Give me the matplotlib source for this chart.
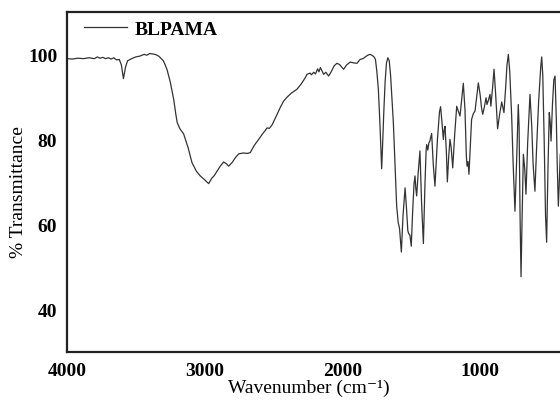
import matplotlib
matplotlib.use("Agg")
import matplotlib.pyplot as plt

plt.rcParams['font.family'] = ['Liberation Serif', 'DejaVu Serif']

# FTIR spectrum of BLPAMA, read point by point (cm-1, % transmittance)
wavenumber = [
    4000, 3960, 3920, 3880, 3840, 3800, 3780, 3760, 3740, 3720, 3700, 3680,
    3660, 3640, 3620, 3605, 3590, 3575, 3560, 3530, 3500, 3470, 3440, 3420,
    3400, 3380, 3360, 3334, 3300, 3274, 3250, 3225, 3210, 3200, 3180, 3153,
    3120, 3092, 3060, 3032, 3000, 2985, 2971, 2950, 2930, 2911, 2885, 2862,
    2840, 2826, 2800, 2775, 2753, 2720, 2690, 2669, 2640, 2608, 2580, 2560,
    2548, 2530, 2511, 2480, 2450, 2427, 2400, 2370, 2330, 2300, 2270, 2257,
    2235, 2225, 2208, 2195, 2180, 2170, 2160, 2136, 2120, 2100, 2080, 2060,
    2040, 2020, 2000, 1991, 1970, 1943, 1920, 1894, 1872, 1850, 1830, 1810,
    1800, 1785, 1770, 1760, 1750, 1739, 1728, 1720, 1715, 1710, 1700, 1690,
    1680, 1670, 1660, 1650, 1640, 1630, 1615, 1606, 1595, 1585, 1572, 1560,
    1545, 1535, 1525, 1518, 1510, 1500, 1490, 1480, 1473, 1467, 1461, 1450,
    1437, 1425, 1412, 1400, 1392, 1388, 1380, 1372, 1365, 1352, 1340, 1328,
    1310, 1295, 1287, 1277, 1267, 1262, 1255, 1245, 1238, 1228, 1219, 1210,
    1199, 1185, 1170, 1160, 1146, 1135, 1122, 1110, 1100, 1095, 1088, 1081,
    1072, 1062, 1050, 1037, 1025, 1013, 1000, 990, 981, 970, 957, 950,
    940, 928, 922, 910, 899, 888, 873, 858, 843, 835, 827, 815,
    805, 795, 785, 771, 760, 747, 735, 723, 717, 710, 703, 695,
    686, 676, 667, 655, 638, 625, 615, 602, 590, 575, 560, 553,
    545, 535, 525, 517, 508, 498, 491, 485, 475, 465, 456, 447,
    440, 432, 425, 418,
]
transmittance = [
    99.0, 98.9, 99.1, 99.0, 99.2, 99.0, 99.4, 99.1, 99.3, 99.0, 99.2, 98.9,
    99.2, 98.7, 98.8, 97.5, 94.3, 97.0, 98.5, 99.0, 99.4, 99.6, 100.0, 99.8,
    100.2, 100.1, 100.0, 99.6, 98.5, 96.5, 93.5, 89.4, 86.0, 84.0, 82.5, 81.3,
    78.0, 74.5, 72.5, 71.4, 70.5, 70.0, 69.6, 70.8, 71.5, 72.5, 73.8, 74.7,
    74.2, 73.7, 74.6, 75.8, 76.6, 76.8, 76.7, 76.9, 78.6, 80.0, 81.3, 82.1,
    82.7, 82.6, 83.4, 85.5, 87.6, 89.0, 90.0, 90.9, 91.8, 93.0, 94.5, 95.3,
    95.6, 95.2, 95.8, 95.4, 96.6, 95.9, 96.9, 95.3, 95.8, 94.9, 96.0, 97.3,
    97.9, 97.6, 96.8, 96.5, 97.5, 98.2, 98.0, 97.9, 98.8, 99.0, 99.5, 99.9,
    100.0, 99.8, 99.4, 98.8, 96.0, 91.8, 84.0, 77.0, 73.1, 77.0, 86.0, 93.5,
    98.0, 99.2, 98.5, 95.0, 89.5, 83.9, 72.0, 64.3, 60.5, 59.0, 53.5, 62.0,
    68.6, 64.0, 58.5, 57.8, 57.5, 54.9, 63.0, 69.5, 71.4, 68.5, 66.7, 72.0,
    77.3, 65.0, 55.5, 70.0, 77.5, 78.8, 77.5, 79.2, 79.6, 81.4, 74.0, 69.0,
    80.0, 86.5, 87.7, 84.0, 80.0, 82.0, 83.1, 77.0, 70.0, 76.0, 80.0, 78.0,
    73.3, 81.0, 87.8, 86.8, 85.5, 89.0, 93.2, 87.0, 76.0, 73.7, 74.8, 71.8,
    78.0, 84.7, 86.0, 86.7, 90.0, 93.3, 90.5, 87.5, 85.9, 87.5, 89.8, 88.2,
    89.2, 90.6, 87.8, 92.0, 96.5, 91.0, 82.5, 86.0, 88.8, 87.5, 86.3, 92.0,
    97.5, 100.0, 96.0, 85.5, 74.0, 63.1, 75.0, 88.2, 83.0, 62.0, 47.7, 62.0,
    76.5, 73.0, 67.1, 79.0, 90.6, 83.0, 74.0, 67.8, 78.0, 89.0, 97.0, 99.4,
    95.0, 80.0, 62.0, 55.8, 72.0, 86.3, 84.0, 79.6, 88.0, 94.0, 94.9, 85.0,
    74.0, 64.3, 70.0, 76.5,
]

x_ticks = [4000, 3000, 2000, 1000]
y_ticks = [40, 60, 80, 100]

fig = plt.figure(figsize=(5.6, 4.02), dpi=100)
ax = fig.add_axes([0.1196, 0.122, 0.8804, 0.846])

ax.plot(wavenumber, transmittance, color='#333333', lw=0.9, label='BLPAMA')

ax.set_xlim(4000, 420)
ax.set_ylim(30, 110)
ax.set_xticks(x_ticks)
ax.set_yticks(y_ticks)
ax.tick_params(length=0, labelsize=14, pad=7)
for lab in ax.get_xticklabels() + ax.get_yticklabels():
    lab.set_fontweight('bold')

for side in ['left', 'bottom', 'top']:
    ax.spines[side].set_linewidth(1.6)
    ax.spines[side].set_color('#222222')
ax.spines['right'].set_visible(False)

# axis titles placed by hand so they stay inside the figure
ax.set_xlabel('Wavenumber (cm\u207B\u00B9)', fontsize=14, va='center')
ax.xaxis.set_label_coords(0.49, -0.104)
ax.set_ylabel('% Transmittance', fontsize=14, va='center')
ax.yaxis.set_label_coords(-0.098, 0.474)

leg = ax.legend(loc='upper left', bbox_to_anchor=(0.034, 0.975), frameon=False,
                borderpad=0, borderaxespad=0, handlelength=2.2, handletextpad=0.4,
                prop={'weight': 'bold', 'size': 14})

fig.savefig('out.png', dpi=100)
